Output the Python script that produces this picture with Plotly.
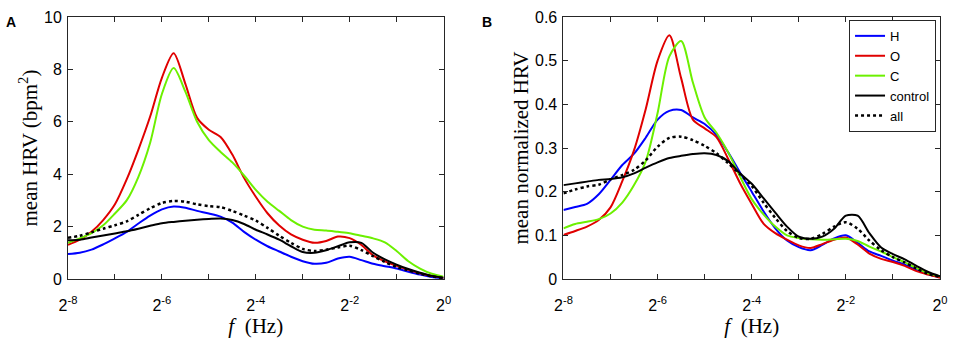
import plotly.graph_objects as go

# frequency grid as log2 exponents (f = 2**e Hz)
exps = [-8 + 0.25 * i for i in range(33)]
freqs = [2.0 ** e for e in exps]

# Panel A: mean HRV (bpm^2)
a_H = [0.95, 1.0, 1.12, 1.32, 1.55, 1.8, 2.12, 2.42, 2.66, 2.77, 2.72, 2.6, 2.5, 2.38, 2.15, 1.8,
       1.5, 1.25, 1.05, 0.85, 0.68, 0.58, 0.62, 0.78, 0.85, 0.72, 0.58, 0.49, 0.4, 0.28, 0.17, 0.08, 0.03]
a_O = [1.30, 1.5, 1.8, 2.25, 2.85, 3.8, 4.94, 6.2, 7.68, 8.62, 7.45, 6.15, 5.7, 5.42, 4.75, 3.86,
       3.14, 2.51, 2.04, 1.7, 1.5, 1.38, 1.45, 1.62, 1.56, 1.3, 0.9, 0.67, 0.5, 0.35, 0.22, 0.12, 0.05]
a_C = [1.38, 1.55, 1.75, 2.05, 2.5, 3.0, 3.9, 5.2, 7.06, 8.05, 7.15, 6.0, 5.3, 4.85, 4.45, 3.95,
       3.4, 2.95, 2.6, 2.25, 2.0, 1.88, 1.85, 1.8, 1.75, 1.65, 1.55, 1.4, 1.07, 0.68, 0.4, 0.2, 0.09]
a_control = [1.48, 1.5, 1.58, 1.66, 1.74, 1.82, 1.92, 2.03, 2.13, 2.18, 2.22, 2.26, 2.29, 2.31, 2.25, 2.1,
             1.88, 1.7, 1.5, 1.25, 1.03, 1.0, 1.1, 1.25, 1.4, 1.38, 1.0, 0.75, 0.55, 0.38, 0.24, 0.12, 0.05]
a_all = [1.57, 1.65, 1.78, 1.92, 2.05, 2.2, 2.45, 2.7, 2.9, 2.98, 2.95, 2.85, 2.78, 2.74, 2.6, 2.42,
         2.23, 1.95, 1.65, 1.38, 1.15, 1.07, 1.12, 1.2, 1.27, 1.1, 0.87, 0.65, 0.46, 0.33, 0.2, 0.1, 0.04]

# Panel B: mean normalized HRV
b_H = [0.158, 0.165, 0.172, 0.194, 0.227, 0.261, 0.287, 0.324, 0.365, 0.385, 0.387, 0.37, 0.355, 0.33,
       0.29, 0.244, 0.2, 0.155, 0.116, 0.088, 0.073, 0.066, 0.078, 0.093, 0.1, 0.083, 0.063, 0.053, 0.042,
       0.033, 0.021, 0.011, 0.004]
b_O = [0.101, 0.11, 0.12, 0.135, 0.164, 0.224, 0.295, 0.39, 0.5, 0.558, 0.46, 0.365, 0.345, 0.325,
       0.275, 0.22, 0.172, 0.127, 0.105, 0.09, 0.077, 0.071, 0.08, 0.09, 0.095, 0.079, 0.058, 0.046, 0.039,
       0.03, 0.018, 0.01, 0.003]
b_C = [0.116, 0.126, 0.131, 0.137, 0.15, 0.175, 0.215, 0.27, 0.38, 0.51, 0.545, 0.45, 0.37, 0.335,
       0.29, 0.235, 0.183, 0.148, 0.12, 0.1, 0.094, 0.091, 0.09, 0.091, 0.092, 0.087, 0.074, 0.063, 0.05,
       0.038, 0.025, 0.013, 0.006]
b_control = [0.215, 0.219, 0.223, 0.227, 0.229, 0.233, 0.242, 0.255, 0.267, 0.277, 0.282, 0.286, 0.288,
             0.284, 0.27, 0.242, 0.218, 0.185, 0.152, 0.12, 0.097, 0.092, 0.097, 0.115, 0.145, 0.145, 0.105,
             0.072, 0.057, 0.045, 0.03, 0.016, 0.006]
b_all = [0.196, 0.205, 0.212, 0.216, 0.228, 0.238, 0.25, 0.272, 0.303, 0.323, 0.326, 0.318, 0.305, 0.288,
         0.265, 0.24, 0.213, 0.175, 0.14, 0.11, 0.094, 0.092, 0.103, 0.12, 0.13, 0.115, 0.088, 0.066, 0.05,
         0.038, 0.024, 0.012, 0.005]

series_names = ["H", "O", "C", "control", "all"]
colors = ["#0000ff", "#e00000", "#6cf000", "#000000", "#000000"]
dashes = ["solid", "solid", "solid", "solid", "dot"]
widths = [2, 2, 2, 2, 2.5]

tick_exps = list(range(-8, 1))
tick_vals = [2.0 ** e for e in tick_exps]
tick_text = [("2<sup>%d</sup>" % e) if e % 2 == 0 else "" for e in tick_exps]

fig = go.Figure()
panelA = [a_H, a_O, a_C, a_control, a_all]
panelB = [b_H, b_O, b_C, b_control, b_all]
for i, name in enumerate(series_names):
    fig.add_trace(go.Scatter(x=freqs, y=panelA[i], mode="lines", name=name, showlegend=False,
                             line=dict(color=colors[i], dash=dashes[i], width=widths[i],
                                       shape="spline", smoothing=0.8),
                             xaxis="x", yaxis="y"))
for i, name in enumerate(series_names):
    fig.add_trace(go.Scatter(x=freqs, y=panelB[i], mode="lines", name=name, showlegend=True,
                             line=dict(color=colors[i], dash=dashes[i], width=widths[i],
                                       shape="spline", smoothing=0.8),
                             xaxis="x2", yaxis="y2"))

axcol = "#262626"
sans = "Liberation Sans, Arial, sans-serif"
serif = "Liberation Serif, Times New Roman, serif"
tickfont = dict(family=sans, size=16, color="#000000")
titlefont = dict(family=serif, size=21, color="#000000")

def xaxis(domain, anchor):
    return dict(type="log", domain=domain, anchor=anchor, range=[-8 * 0.30103, 0],
                tickvals=tick_vals, ticktext=tick_text, ticks="inside", ticklen=5,
                tickcolor=axcol, showline=True, linecolor=axcol, linewidth=1, mirror="allticks",
                showgrid=False, zeroline=False, tickfont=tickfont, ticklabelstandoff=12,
                title=dict(text="<i>f</i>  (Hz)", font=titlefont, standoff=2))

def yaxis(domain, anchor, rng, dtick, title, standoff):
    return dict(domain=domain, anchor=anchor, range=rng, dtick=dtick, tick0=0, ticks="inside",
                ticklen=5, tickcolor=axcol, showline=True, linecolor=axcol, linewidth=1,
                mirror="allticks", showgrid=False, zeroline=False, tickfont=tickfont,
                ticklabelstandoff=2,
                title=dict(text=title, font=titlefont, standoff=standoff))

W, H, L, R, T, B = 957, 340, 68, 9, 9, 61
pw, ph = W - L - R, H - T - B

fig.update_layout(
    width=W, height=H,
    margin=dict(l=L, r=R, t=T, b=B),
    paper_bgcolor="white", plot_bgcolor="white",
    xaxis=xaxis([0, 379 / pw], "y"),
    yaxis=yaxis([0, 1], "x", [0, 10], 2, "mean HRV (bpm<sup>2</sup>)", 0),
    xaxis2=xaxis([(568 - L) / pw, 1], "y2"),
    yaxis2=yaxis([0, 1], "x2", [0, 0.6], 0.1, "mean normalized HRV", 0),
    legend=dict(x=(944 - L) / pw, y=(H - B - 12) / ph, xanchor="right", yanchor="top",
                bgcolor="white", bordercolor=axcol, borderwidth=1,
                font=dict(family=sans, size=13, color="#000"),
                tracegroupgap=0),
)

def px(xp): return (xp - L) / pw
def py(yp): return (H - B - yp) / ph

fig.add_annotation(text="<b>A</b>", x=px(3), y=py(14), xref="paper", yref="paper", showarrow=False,
                   xanchor="left", yanchor="middle", font=dict(family=sans, size=14, color="#000"))
fig.add_annotation(text="<b>B</b>", x=px(484), y=py(14), xref="paper", yref="paper", showarrow=False,
                   xanchor="left", yanchor="middle", font=dict(family=sans, size=14, color="#000"))

fig.write_html("out.html", config={"displayModeBar": False},
               post_script="document.body.style.margin='0';")
